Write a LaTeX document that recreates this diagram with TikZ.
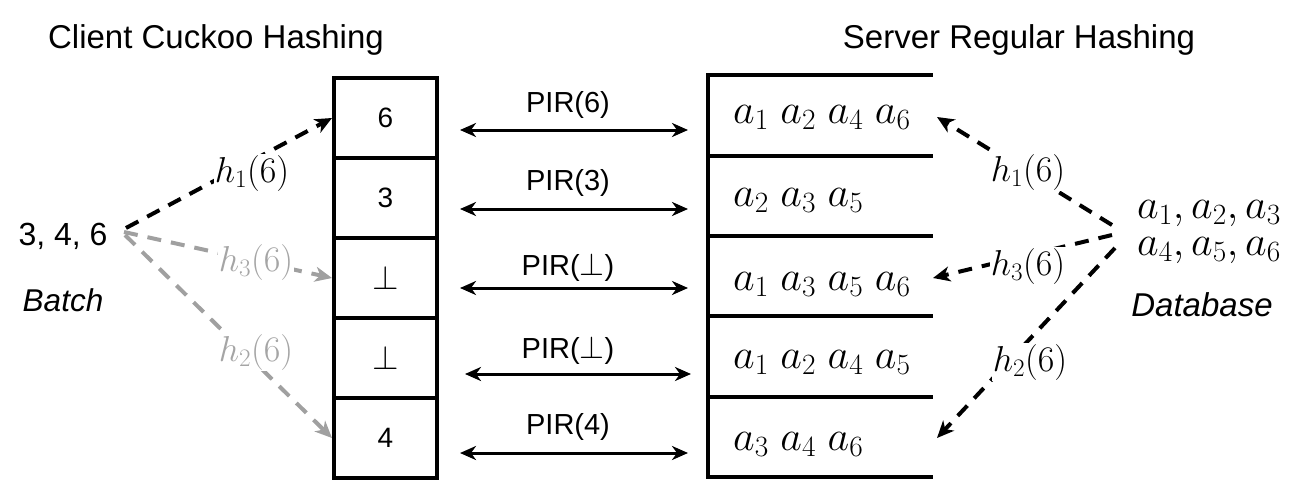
\RequirePackage{fix-cm}
\documentclass[tikz,border=0pt]{standalone}
\usepackage{fontspec}
\setmainfont{Liberation Sans}
\usetikzlibrary{arrows.meta}
\newcommand{\bigperp}{{\fontsize{34}{36}\selectfont$\perp$}}
\newcommand{\pirperp}{{\fontsize{32}{36}\selectfont$\perp$}}
\begin{document}
\begin{tikzpicture}[x=1pt,y=-1pt,
  cell/.style={draw,line width=4pt,minimum width=103pt,minimum height=80pt,inner sep=0pt,font=\fontsize{28}{32}\selectfont},
  pirlbl/.style={font=\fontsize{29}{32}\selectfont},
  pirarr/.style={line width=3pt,{Stealth[length=16pt,width=14pt,inset=5pt]}-{Stealth[length=16pt,width=14pt,inset=5pt]}},
  title/.style={font=\fontsize{33}{38}\selectfont},
  mathlbl/.style={font=\fontsize{36}{40}\selectfont,inner sep=1pt},
  hashblk/.style={line width=4pt,dash pattern=on 14pt off 10pt,-{Stealth[length=17pt,width=15pt,inset=5pt]}},
  hashgray/.style={hashblk,draw=graycol},
  srvline/.style={line width=4pt},
  srvtxt/.style={font=\fontsize{42}{46}\selectfont,anchor=base west,inner sep=0pt}
]
\definecolor{graycol}{RGB}{160,160,160}
\definecolor{graytxt}{RGB}{165,165,165}
\useasboundingbox (0,0) rectangle (1313,503);

% titles
\node[title] (ttlc) at (216,40) {Client Cuckoo Hashing};
\node[title] (ttls) at (1019,40) {Server Regular Hashing};

% client table
\node[cell] (c1) at (385.5,118) {6};
\node[cell] (c2) at (385.5,198) {3};
\node[cell] (c3) at (385.5,278) {\bigperp};
\node[cell] (c4) at (385.5,358) {\bigperp};
\node[cell] (c5) at (385.5,438) {4};

% batch
\node[font=\fontsize{32}{36}\selectfont] (batch) at (63,236) {3, 4, 6};
\node[font=\fontsize{31.5}{34}\selectfont\itshape] (batchlbl) at (63,300) {Batch};
\coordinate (bs1) at (126,228);
\coordinate (bs3) at (124,232);
\coordinate (bs2) at (125,235);

\draw[hashgray] (bs3) -- (c3.west);
\draw[hashgray] (bs2) -- (c5.west);
\draw[hashblk] (bs1) -- (c1.west);
\node[mathlbl,fill=white] (h1l) at (252,173) {$h_1(6)$};
\node[mathlbl,fill=white,text=graytxt] (h3l) at (256,262) {$h_3(6)$};
\node[mathlbl,fill=white,text=graytxt] (h2l) at (256,352) {$h_2(6)$};

% server table
\draw[srvline] (708,75) -- (708,475);
\foreach \yy in {75,156,236,316,397,477}{
  \draw[srvline] (706,\yy) -- (933,\yy);
}
\node[srvtxt] (s1) at (733,123) {$a_1\ a_2\ a_4\ a_6$};
\node[srvtxt] (s2) at (733,206.5) {$a_2\ a_3\ a_5$};
\node[srvtxt] (s3) at (733,290) {$a_1\ a_3\ a_5\ a_6$};
\node[srvtxt] (s4) at (733,368.5) {$a_1\ a_2\ a_4\ a_5$};
\node[srvtxt] (s5) at (733,450) {$a_3\ a_4\ a_6$};

% PIR arrows
\coordinate (pl1) at (460,130); \coordinate (pr1) at (688,130);
\coordinate (pl2) at (460,209); \coordinate (pr2) at (688,209);
\coordinate (pl3) at (460,288); \coordinate (pr3) at (688,288);
\coordinate (pl4) at (465,374); \coordinate (pr4) at (691,374);
\coordinate (pl5) at (460,453); \coordinate (pr5) at (688,453);
\draw[pirarr] (pl1) -- (pr1);
\draw[pirarr] (pl2) -- (pr2);
\draw[pirarr] (pl3) -- (pr3);
\draw[pirarr] (pl4) -- (pr4);
\draw[pirarr] (pl5) -- (pr5);
\node[pirlbl] (p1) at (568,105) {PIR(6)};
\node[pirlbl] (p2) at (568,183) {PIR(3)};
\node[pirlbl] (p3) at (568,267) {PIR(\pirperp)};
\node[pirlbl] (p4) at (568,350) {PIR(\pirperp)};
\node[pirlbl] (p5) at (568,427) {PIR(4)};

% database
\node[font=\fontsize{42}{37}\selectfont,inner sep=0pt,align=left] (db) at (1209,232) {$a_1,a_2,a_3$\\$a_4,a_5,a_6$};
\node[font=\fontsize{33}{36}\selectfont\itshape] (dblbl) at (1202,305) {Database};
\coordinate (ds1) at (1112,225);
\coordinate (ds3) at (1112,235);
\coordinate (ds2) at (1115,248);
\coordinate (dt1) at (937,117);
\coordinate (dt3) at (933,278);
\coordinate (dt2) at (937,438);
\draw[hashblk] (ds1) -- (dt1);
\draw[hashblk] (ds3) -- (dt3);
\draw[hashblk] (ds2) -- (dt2);
\node[mathlbl,fill=white] (rh1) at (1028,172) {$h_1(6)$};
\node[mathlbl,fill=white] (rh3) at (1028,266) {$h_3(6)$};
\node[mathlbl,fill=white] (rh2) at (1030,362) {$h_2(6)$};
\end{tikzpicture}
\end{document}
